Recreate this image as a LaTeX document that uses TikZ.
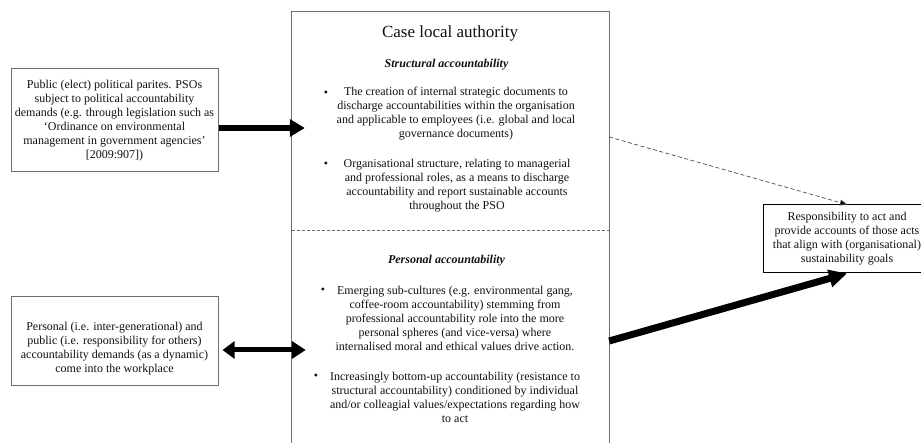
\documentclass[tikz,border=0pt]{standalone}
\usepackage{fontspec}
\setmainfont{Liberation Serif}
\usetikzlibrary{arrows.meta}
\definecolor{boxgray}{HTML}{6E6E6E}
\definecolor{txt}{HTML}{111111}
\tikzset{
  graybox/.style={draw=boxgray, line width=1pt, inner sep=0pt, rectangle},
  blackbox/.style={draw=black, line width=1pt, inner sep=0pt, rectangle, fill=white},
  body/.style={align=center, inner sep=0pt, text=txt, font=\fontsize{12}{14}\selectfont},
  head/.style={inner sep=0pt, text=txt, font=\fontsize{12}{14}\selectfont\bfseries\itshape},
  title/.style={inner sep=0pt, text=txt, font=\fontsize{17}{20}\selectfont},
  bulletmark/.style={inner sep=0pt, anchor=base, text=txt, font=\fontsize{12}{14}\selectfont},
  bigarrow/.style={line width=6.5pt, -{Triangle[length=15pt,width=17pt]}},
  dblarrow/.style={line width=5pt, {Triangle[length=12pt,width=17pt]}-{Triangle[length=14pt,width=17pt]}},
  diagarrow/.style={line width=7pt, -{Triangle[length=18pt,width=17pt]}},
  thinarrow/.style={line width=0.7pt, draw=boxgray!70!black, dash pattern=on 4pt off 2.5pt, -{Triangle[length=7pt,width=6pt,fill=black]}}
}
\begin{document}
\begin{tikzpicture}[x=1pt,y=-1pt]
\useasboundingbox (0,0) rectangle (921,443);
\clip (0,0) rectangle (921,443);
\fill[white] (0,0) rectangle (921,443);

% center box (open at bottom)
\node[inner sep=0pt, minimum width=317pt, minimum height=436pt] (cb) at (450.5,230) {};
\draw[boxgray, line width=1pt] (cb.south west) |- (cb.north east) -- (cb.south east);
\draw[boxgray, line width=0.6pt, dash pattern=on 3pt off 2pt] (cb.west |- 0,230) -- (cb.east |- 0,230);

\node[title] (ttl) at (450,33) {Case local authority};
\node[head] (h1) at (446.5,65) {Structural accountability};
\node[bulletmark] (b1) at (326,97) {•};
\node[body] (t1) at (456,114) {The creation of internal strategic documents to\\discharge accountabilities within the organisation\\and applicable to employees (i.e. global and local\\governance documents)};
\node[bulletmark] (b2) at (326,168) {•};
\node[body] (t2) at (457,185.5) {Organisational structure, relating to managerial\\and professional roles, as a means to discharge\\accountability and report sustainable accounts\\throughout the PSO};

\node[head] (h2) at (446.5,261) {Personal accountability};
\node[bulletmark] (b3) at (323,294) {•};
\node[body] (t3) at (455,318.5) {Emerging sub-cultures (e.g. environmental gang,\\coffee-room accountability) stemming from\\professional accountability role into the more\\personal spheres (and vice-versa) where\\internalised moral and ethical values drive action.};
\node[bulletmark] (b4) at (316,380) {•};
\node[body] (t4) at (455,397.5) {Increasingly bottom-up accountability (resistance to\\structural accountability) conditioned by individual\\and/or colleagial values/expectations regarding how\\to act};

% left boxes
\node[graybox, minimum width=207pt, minimum height=103pt, body] (lt) at (114.5,120.5) {Public (elect) political parites. PSOs\\subject to political accountability\\demands (e.g. through legislation such as\\‘Ordinance on environmental\\management in government agencies’\\{[}2009:907{]})};
\node[graybox, minimum width=207pt, minimum height=89pt] (lb) at (114.5,341.5) {};
\node[body] (lbt) at (114.5,348.5) {Personal (i.e. inter-generational) and\\public (i.e. responsibility for others)\\accountability demands (as a dynamic)\\come into the workplace};

% right box
\node[blackbox, minimum width=168pt, minimum height=68pt, body] (rb) at (847,239) {Responsibility to act and\\provide accounts of those acts\\that align with (organisational)\\sustainability goals};

% connectors
\draw[bigarrow, shorten >=-13pt] (lt.east |- 0,128) -- (cb.west |- 0,128);
\draw[dblarrow, shorten <=4pt, shorten >=-14pt] (lb.east |- 0,350) -- (cb.west |- 0,350);
\draw[diagarrow] (cb.east |- 0,341) -- (rb.south);
\draw[thinarrow] (cb.east |- 0,137) -- (rb.north);
\end{tikzpicture}
\end{document}
